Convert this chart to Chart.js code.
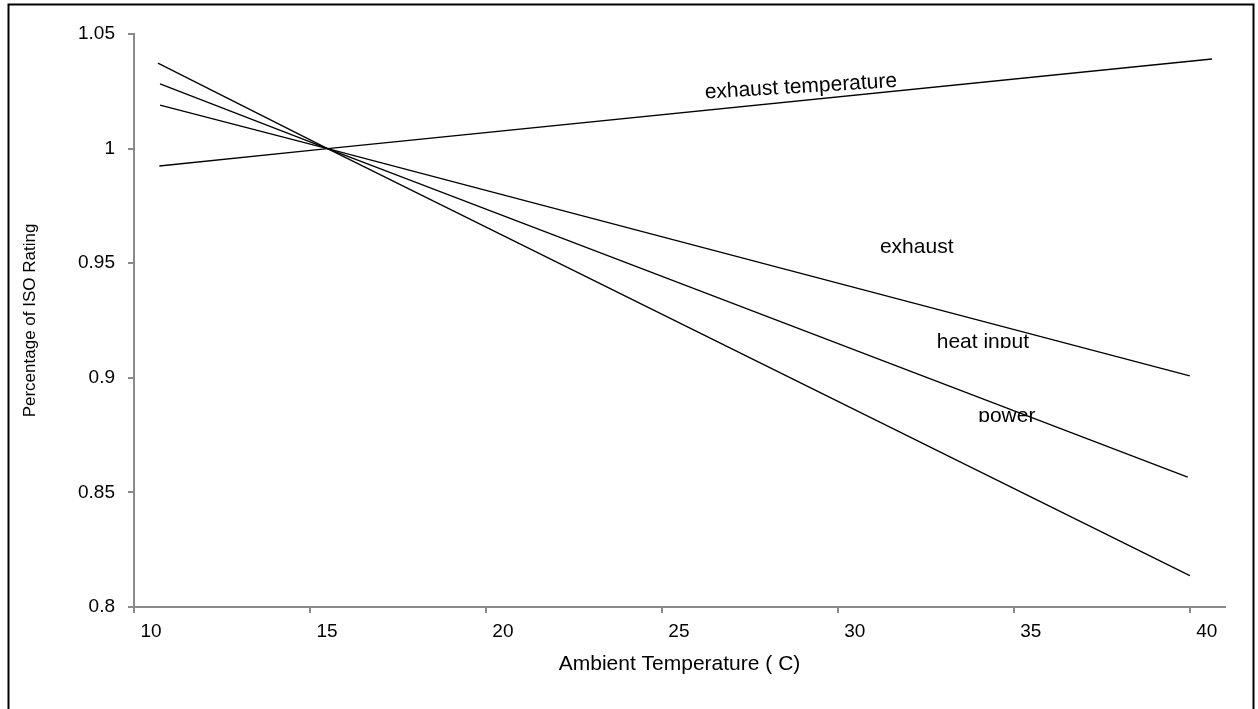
<!DOCTYPE html>
<html>
<head>
<meta charset="utf-8">
<script src="https://cdn.jsdelivr.net/npm/chart.js@4"></script>
<style>
  body { margin: 0; background: #fff; }
  canvas { display: block; }
</style>
</head>
<body>
<canvas id="grafico" width="1258" height="709"></canvas>
<script>
// valores
const xTicks = [10, 15, 20, 25, 30, 35, 40];
const xTickLabels = ['10', '15', '20', '25', '30', '35', '40'];
const yTicks = [0.8, 0.85, 0.9, 0.95, 1, 1.05];
const yTickLabels = ['0.8', '0.85', '0.9', '0.95', '1', '1.05'];

const seriesNames = ['exhaust temperature', 'exhaust', 'heat input', 'power'];

const exhaustTempX = [10.72, 15.5, 40.63];
const exhaustTempY = [0.9924, 1.0, 1.0391];
const exhaustX = [10.74, 15.5, 40.0];
const exhaustY = [1.019, 1.0, 0.9008];
const heatInputX = [10.74, 15.5, 39.94];
const heatInputY = [1.0282, 1.0, 0.8567];
const powerX = [10.68, 15.5, 40.0];
const powerY = [1.0373, 1.0, 0.8137];

const fonte = '"Liberation Sans", Arial, sans-serif';
const cinza = '#8a8a8a';

function pontos(xs, ys) {
    return xs.map((x, i) => ({ x: x, y: ys[i] }));
}

const series = [
    pontos(exhaustTempX, exhaustTempY),
    pontos(exhaustX, exhaustY),
    pontos(heatInputX, heatInputY),
    pontos(powerX, powerY)
];

// rótulos das linhas (posição em unidades do gráfico)
const rotulos = [
    { text: seriesNames[0], x: 28.95, y: 1.0269, angle: -3.5 },
    { text: seriesNames[1], x: 32.24, y: 0.957, angle: 0 },
    { text: seriesNames[2], x: 34.12, y: 0.9156, angle: 0, clip: 6 },
    { text: seriesNames[3], x: 34.8, y: 0.8833, angle: 0, clip: 6 }
];

// moldura em volta da imagem
const moldura = {
    id: 'moldura',
    afterDraw(chart) {
        const ctx = chart.ctx;
        ctx.save();
        ctx.strokeStyle = '#000';
        ctx.lineWidth = 2;
        ctx.strokeRect(8.5, 4.5, 1245, 720);
        ctx.restore();
    }
};

const textoLinhas = {
    id: 'textoLinhas',
    afterDatasetsDraw(chart) {
        const ctx = chart.ctx;
        const sx = chart.scales.x, sy = chart.scales.y;
        ctx.save();
        ctx.font = '21px ' + fonte;
        ctx.fillStyle = '#000';
        ctx.textAlign = 'center';
        ctx.textBaseline = 'middle';
        rotulos.forEach(r => {
            const px = sx.getPixelForValue(r.x);
            const py = sy.getPixelForValue(r.y);
            ctx.save();
            ctx.translate(px, py);
            ctx.rotate(r.angle * Math.PI / 180);
            if (r.clip) {
                // o texto original aparece cortado em baixo
                ctx.beginPath();
                ctx.rect(-120, -20, 240, 20 + r.clip);
                ctx.clip();
            }
            ctx.fillText(r.text, 0, 0);
            ctx.restore();
        });
        ctx.restore();
    }
};

const ctx = document.getElementById('grafico').getContext('2d');
new Chart(ctx, {
    type: 'line',
    data: {
        datasets: series.map((d, i) => ({
            label: seriesNames[i],
            data: d,
            borderColor: '#000',
            borderWidth: 1.3,
            pointRadius: 0,
            fill: false,
            tension: 0
        }))
    },
    options: {
        responsive: false,
        animation: false,
        layout: { padding: { top: 34, right: 33, left: 0, bottom: 0 } },
        plugins: {
            legend: { display: false },
            tooltip: { enabled: false }
        },
        scales: {
            x: {
                type: 'linear',
                min: 10,
                max: 41,
                afterBuildTicks: s => { s.ticks = xTicks.map(v => ({ value: v })); },
                afterFit: s => { s.height = 102; },
                ticks: {
                    callback: (v, i) => xTickLabels[i],
                    font: { family: fonte, size: 19 },
                    color: '#000',
                    padding: 7,
                    labelOffset: 17,
                    maxRotation: 0,
                    autoSkip: false
                },
                grid: { drawOnChartArea: false, drawTicks: true, tickLength: 6, color: cinza, lineWidth: 2 },
                border: { color: cinza, width: 2 },
                title: {
                    display: true,
                    text: 'Ambient Temperature ( C)',
                    font: { family: fonte, size: 21 },
                    color: '#000',
                    padding: { top: 0, bottom: 32 }
                }
            },
            y: {
                min: 0.8,
                max: 1.05,
                afterBuildTicks: s => { s.ticks = yTicks.map(v => ({ value: v })); },
                afterFit: s => { s.width = 134; },
                ticks: {
                    callback: (v, i) => yTickLabels[i],
                    font: { family: fonte, size: 19 },
                    color: '#000',
                    padding: 13,
                    autoSkip: false
                },
                grid: { drawOnChartArea: false, drawTicks: true, tickLength: 6, color: cinza, lineWidth: 2 },
                border: { color: cinza, width: 2 },
                title: {
                    display: true,
                    text: 'Percentage of ISO Rating',
                    font: { family: fonte, size: 17 },
                    color: '#000',
                    padding: { top: 20, bottom: 0 }
                }
            }
        }
    },
    plugins: [moldura, textoLinhas]
});
</script>
</body>
</html>
